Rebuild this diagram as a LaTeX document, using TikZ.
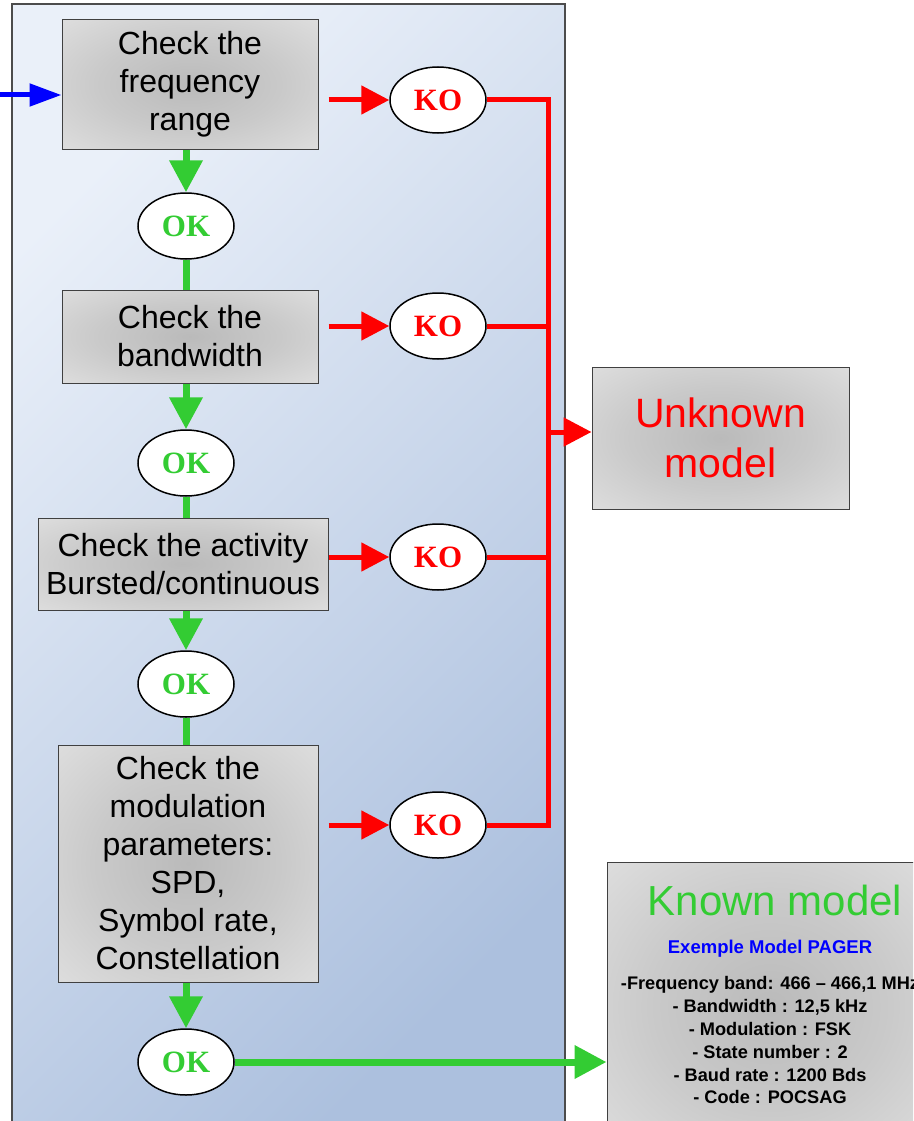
\documentclass[tikz,border=0pt]{standalone}
\usepackage{fontspec}
\setmainfont{Liberation Sans}
\newfontfamily\timesfont{Liberation Serif}
\usetikzlibrary{arrows.meta,shapes.geometric,calc}

\definecolor{okgreen}{RGB}{51,204,51}
\definecolor{kored}{RGB}{255,0,0}
\definecolor{inblue}{RGB}{0,0,255}
\definecolor{panelTop}{RGB}{234,240,249}
\definecolor{panelBottom}{RGB}{172,192,222}

% soft grey glow used inside the process boxes
\pgfdeclareradialshading{boxglow}{\pgfpoint{0bp}{0bp}}{%
  color(0bp)=(black!27); color(18bp)=(black!21); color(36bp)=(black!13); color(50bp)=(black!11)}

\begin{document}
\begin{tikzpicture}[x=1pt,y=-1pt,
  stepbox/.style={draw=black!75, line width=1pt, shade, shading=boxglow,
    rectangle, align=center, inner sep=0pt,
    font=\fontsize{32}{38}\selectfont},
  bubble/.style={ellipse, draw=black, line width=1.5pt, fill=white,
    minimum width=96pt, minimum height=66pt, inner sep=0pt,
    font=\timesfont\bfseries\fontsize{31}{31}\selectfont},
  okbubble/.style={bubble, text=okgreen},
  kobubble/.style={bubble, text=kored},
  okflow/.style={draw=okgreen, line width=7pt},
  okarrow/.style={okflow, -{Triangle[length=32pt,width=32pt]}},
  koflow/.style={draw=kored, line width=5pt},
  koarrow/.style={koflow, -{Triangle[length=28pt,width=28pt]}},
  inarrow/.style={draw=inblue, line width=5pt, -{Triangle[length=32pt,width=22pt]}},
  listline/.style={anchor=base, inner sep=0pt, font=\bfseries\fontsize{18.2}{20}\selectfont}
]
\useasboundingbox (0,0) rectangle (913,1121);
\clip (0,0) rectangle (913,1121);

% background panel holding the checks
\shade[draw=black!70, line width=1.2pt, top color=panelTop, bottom color=panelBottom,
  shading angle=45] (12,4) rectangle (565,1135);

% process boxes
\node[stepbox, minimum width=256pt, minimum height=129pt] (freq) at (190,84.5)
  {Check the\\frequency\\range};
\node[stepbox, minimum width=256pt, minimum height=93pt] (band) at (190,336.5)
  {Check the\\bandwidth};
\node[stepbox, minimum width=290pt, minimum height=92pt] (activity) at (183,564)
  {Check the activity\\Bursted/continuous};
\node[stepbox, minimum width=260pt, minimum height=237pt] (modul) at (188,863.5)
  {Check the\\modulation\\parameters:\\SPD,\\Symbol rate,\\Constellation};

% outcomes
\node[okbubble] (ok1) at (186,226) {OK};
\node[okbubble] (ok2) at (186,463) {OK};
\node[okbubble] (ok3) at (186,684) {OK};
\node[okbubble] (ok4) at (186,1062) {OK};
\node[kobubble] (ko1) at (438,100) {KO};
\node[kobubble] (ko2) at (438,326) {KO};
\node[kobubble] (ko3) at (438,557) {KO};
\node[kobubble] (ko4) at (438,825) {KO};

% result boxes
\node[stepbox, minimum width=257pt, minimum height=142pt, text=kored,
  font=\fontsize{41}{50}\selectfont] (unknown) at (720.5,438) {Unknown\\model};
\node[stepbox, minimum width=326pt, minimum height=290pt] (known) at (770,1007) {};
\node[anchor=base, inner sep=0pt, text=okgreen, font=\fontsize{42}{42}\selectfont]
  (knowntitle) at (775,915) {Known model};
\node[anchor=base, inner sep=0pt, text=inblue, font=\bfseries\fontsize{18.5}{20}\selectfont]
  (example) at (770,953) {Exemple Model PAGER};
\node[listline] (l1) at (770,989)  {-Frequency band: 466 – 466,1 MHz};
\node[listline] (l2) at (770,1012) {- Bandwidth : 12,5 kHz};
\node[listline] (l3) at (770,1035) {- Modulation : FSK};
\node[listline] (l4) at (770,1058) {- State number : 2};
\node[listline] (l5) at (770,1081) {- Baud rate : 1200 Bds};
\node[listline] (l6) at (770,1103) {- Code : POCSAG};

% entry
\coordinate (entry) at (0,95);
\draw[inarrow] (entry) -- (entry -| freq.west);

% success path
\draw[okarrow] (ok1 |- freq.south) -- (ok1.north);
\draw[okflow] (ok1.south) -- (ok1 |- band.north);
\draw[okarrow] (ok2 |- band.south) -- (ok2.north);
\draw[okflow] (ok2.south) -- (ok2 |- activity.north);
\draw[okarrow] (ok3 |- activity.south) -- (ok3.north);
\draw[okflow] (ok3.south) -- (ok3 |- modul.north);
\draw[okarrow] (ok4 |- modul.south) -- (ok4.north);
\draw[okarrow] (ok4.east) -- (ok4.east -| known.west);

% failure path
\draw[koarrow] ($(freq.east |- ko1)+(10,0)$) -- (ko1.west);
\draw[koarrow] ($(band.east |- ko2)+(10,0)$) -- (ko2.west);
\draw[koarrow] (activity.east |- ko3) -- (ko3.west);
\draw[koarrow] ($(modul.east |- ko4)+(10,0)$) -- (ko4.west);
\coordinate (bus) at ($(ko4.east)+(62,0)$);
\draw[koflow, line join=miter] (ko1.east) -| (bus) -- (ko4.east);
\draw[koflow] (ko2.east) -- (ko2.east -| bus);
\draw[koflow] (ko3.east) -- (ko3.east -| bus);
\coordinate (busout) at ($(bus |- unknown.west)+(0,-6)$);
\draw[koarrow] (busout) -- (busout -| unknown.west);
\end{tikzpicture}
\end{document}
